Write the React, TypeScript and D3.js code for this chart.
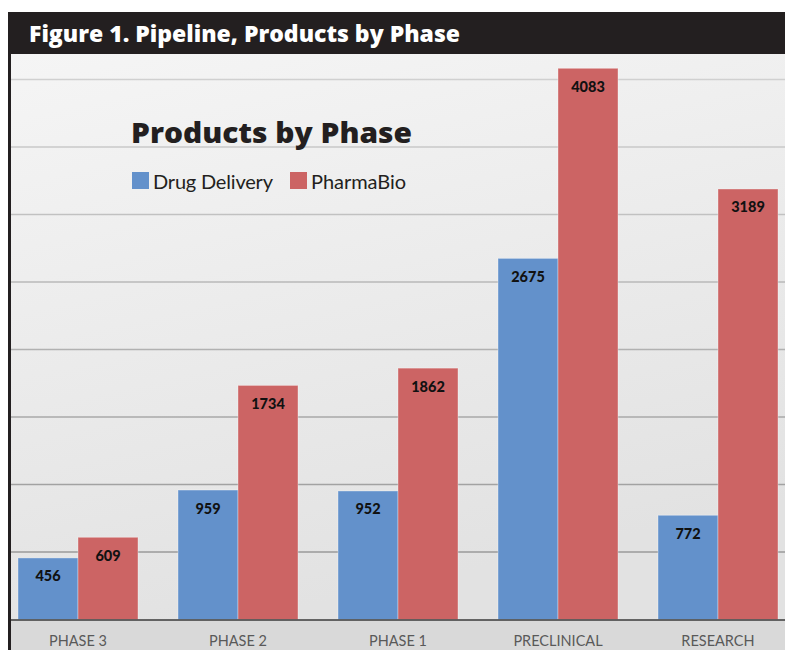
import React from "react";
import * as d3 from "d3";

const categories = ["PHASE 3", "PHASE 2", "PHASE 1", "PRECLINICAL", "RESEARCH"];
const seriesNames = ["Drug Delivery", "PharmaBio"];
const drugDelivery = [456, 959, 952, 2675, 772];
const pharmaBio = [609, 1734, 1862, 4083, 3189];
const gridTicks = [500, 1000, 1500, 2000, 2500, 3000, 3500, 4000];

const W = 785;
const H = 650;
const BLUE = "#6391cb";
const RED = "#cc6464";

export default function App() {
  const x = d3.scaleBand<string>().domain(categories).range([-2, 798]).paddingInner(0.25).paddingOuter(0.125);
  const x1 = d3.scaleBand<string>().domain(seriesNames).range([0, x.bandwidth()]);
  const y = d3.scaleLinear().domain([0, 4000]).range([619.5, 79.5]);
  const series = [drugDelivery, pharmaBio];
  const colors = [BLUE, RED];
  const gridColor = d3.scaleLinear<string>().domain([500, 4000]).range(["#9a9a9a", "#d0d0d0"]);

  return (
    <svg width={W} height={H} style={{ position: "absolute", left: 0, top: 0 }}>
      <defs>
        <linearGradient id="bg" x1="0" y1="0" x2="0.3" y2="1">
          <stop offset="0" stopColor="#f5f5f5" />
          <stop offset="1" stopColor="#e2e2e2" />
        </linearGradient>
      </defs>
      <rect x={0} y={0} width={W} height={H} fill="#ffffff" />
      <rect x={11} y={54} width={W - 11} height={566} fill="url(#bg)" />
      {gridTicks.map((t) => (
        <line key={t} x1={11} x2={W} y1={y(t)} y2={y(t)} stroke={gridColor(t)} strokeWidth={1.5} />
      ))}
      {categories.map((c, i) => (
        <g key={c} transform={`translate(${x(c)},0)`}>
          {series.map((s, j) => {
            const bx = x1(seriesNames[j])!;
            const bw = x1.bandwidth();
            const top = y(s[i]);
            return (
              <g key={j}>
                <rect x={bx} y={top} width={bw} height={y(0) - top} fill={colors[j]} stroke="#ffffff" strokeOpacity={0.35} strokeWidth={1} />
                <text x={bx + bw / 2} y={top + 23.5} textAnchor="middle" fontFamily="Lato" fontWeight={900} fontSize={14.5} fill="#111">
                  {s[i]}
                </text>
              </g>
            );
          })}
        </g>
      ))}
      <rect x={11} y={620} width={W - 11} height={30} fill="#d9d9d9" />
      <line x1={11} x2={W} y1={620} y2={620} stroke="#3a3a3a" strokeWidth={1.5} />
      {categories.map((c) => (
        <text key={c} x={x(c)! + x.bandwidth() / 2} y={646} textAnchor="middle" fontFamily="Lato" fontSize={14.5} fill="#595959">
          {c}
        </text>
      ))}
      <rect x={8} y={54} width={3} height={H - 54} fill="#231f20" />
      <rect x={8} y={12} width={W - 8} height={42} fill="#231f20" />
      <text x={29} y={42} fontFamily="'Open Sans'" fontWeight={800} fontSize={22} fill="#ffffff" textLength={431} lengthAdjust="spacingAndGlyphs">
        Figure 1. Pipeline, Products by Phase
      </text>
      <text x={131} y={143} fontFamily="'Open Sans'" fontWeight={800} fontSize={29} fill="#231f20" textLength={281} lengthAdjust="spacingAndGlyphs">
        Products by Phase
      </text>
      <rect x={132} y={172} width={17} height={17} fill={BLUE} />
      <text x={153} y={189} fontFamily="Lato" fontSize={20} fill="#231f20" textLength={120} lengthAdjust="spacing">Drug Delivery</text>
      <rect x={290} y={172} width={17} height={17} fill={RED} />
      <text x={311} y={189} fontFamily="Lato" fontSize={20} fill="#231f20" textLength={95} lengthAdjust="spacing">PharmaBio</text>
    </svg>
  );
}
